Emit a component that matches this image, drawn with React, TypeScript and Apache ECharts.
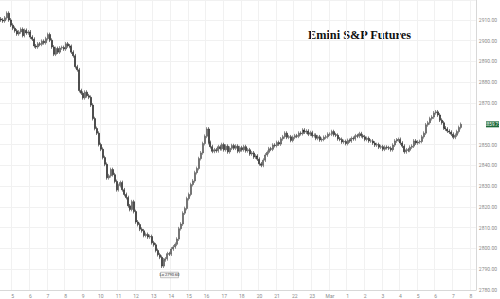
import React, { useEffect, useRef } from "react";
import * as echarts from "echarts";

const TITLE = "Emini S&P Futures";

// closing prices, one per candle
const closes: number[] = [
  2910, 2909.5, 2911, 2913.25, 2910, 2907.5, 2906, 2904.75, 2903.25, 2904.25,
  2905.5, 2902.5, 2905, 2903.75, 2904.25, 2901.75, 2900.75, 2897.5, 2897, 2898.5,
  2898.25, 2899.75, 2899, 2901, 2903, 2900.25, 2897, 2893.5, 2896.25, 2894.5,
  2896.5, 2896.75, 2896, 2898.5, 2897.5, 2897.25, 2894.5, 2892.75, 2887.5, 2886,
  2876, 2874.75, 2872.5, 2875.25, 2873.5, 2872.75, 2869, 2862.5, 2857.75, 2855.5,
  2850, 2847.75, 2843.75, 2840.5, 2834, 2835, 2838, 2835.5, 2832.25, 2828.25,
  2830.25, 2831.75, 2828.25, 2826, 2824.5, 2820.5, 2818.75, 2822.5, 2817.75, 2812.75,
  2811.5, 2809.25, 2808.5, 2806.25, 2806.75, 2805.5, 2805.75, 2802.75, 2801.75, 2799,
  2797, 2795.75, 2791.5, 2794.5, 2795, 2797.5, 2797.25, 2799.75, 2800.75, 2802,
  2804.5, 2809.5, 2811.75, 2817, 2819.25, 2824, 2826, 2830.75, 2832.5, 2836.5,
  2838.5, 2843.25, 2846, 2850.5, 2854, 2857.5, 2851, 2849, 2846.75, 2847.5,
  2847, 2849, 2848, 2850, 2847.5, 2849.25, 2846.5, 2848.25, 2849.5, 2848.25,
  2849.25, 2846.75, 2848.5, 2847.5, 2849, 2847, 2847.5, 2845.5, 2846, 2844,
  2844.5, 2843, 2840.75, 2840, 2842.5, 2845, 2846.25, 2848, 2847.75, 2849.75,
  2849.5, 2851, 2850.25, 2852.75, 2853.75, 2855.5, 2853.5, 2853.75, 2852, 2853.5,
  2854.25, 2854, 2855.5, 2855.25, 2857, 2856, 2856.5, 2855, 2855.75, 2854.25,
  2854.5, 2853, 2853.75, 2852.25, 2852.5, 2853.5, 2853.75, 2855, 2855, 2856.25,
  2854.75, 2854.5, 2852.75, 2852.5, 2851.25, 2851.5, 2850.5, 2852, 2851.75, 2853,
  2852.75, 2854.25, 2854, 2855.25, 2854.25, 2853.75, 2852.5, 2853, 2851.75, 2851.75,
  2850.75, 2849.75, 2850, 2848.75, 2849, 2847.75, 2848.75, 2848.5, 2848.25, 2847.5,
  2849.75, 2851.75, 2852.25, 2852.5, 2850.75, 2849.25, 2846.5, 2847.5, 2847.25, 2848.75,
  2849.25, 2851.75, 2850.75, 2851.25, 2851.5, 2853.75, 2855.5, 2859.5, 2860.5, 2862.5,
  2863.25, 2865.25, 2865.75, 2864.25, 2861.75, 2860.5, 2858, 2857.5, 2856.5, 2856,
  2855, 2853.5, 2854.5, 2856.25, 2858.25, 2859.75,
];

// day labels on the time axis
const xLabels: string[] = [
  "5", "6", "7", "8", "9", "10", "11", "12", "13", "14", "15", "16", "17", "18",
  "20", "21", "22", "23", "Mar", "1", "2", "3", "4", "5", "6", "7", "8",
];

// price axis
const Y_MIN = 2780;
const Y_STEP = 10;

const SLOTS = 243;
const WICK = 0.9;

export default function App() {
  const ref = useRef<HTMLDivElement>(null);

  useEffect(() => {
    if (!ref.current) return;
    const chart = echarts.init(ref.current, null, { renderer: "svg" });

    const cats: string[] = Array.from({ length: SLOTS }, () => "");
    xLabels.forEach((t, k) => {
      const idx = 6 + 9 * k;
      if (idx < SLOTS) cats[idx] = t;
    });

    const ohlc = closes.map((c, i) => {
      const o = i === 0 ? c + 0.5 : closes[i - 1];
      const lo = Math.min(o, c) - WICK;
      const hi = Math.max(o, c) + WICK;
      return [o, c, lo, hi];
    });

    const lastClose = closes[closes.length - 1];
    const showLabel = (idx: number) => cats[idx] !== "";

    const titleGraphic = {
      type: "text",
      left: 308,
      top: 29,
      style: {
        text: TITLE,
        font: 'bold 12.3px "Liberation Serif"',
        fill: "#111",
      },
    };

    chart.setOption({
      animation: false,
      backgroundColor: "#ffffff",
      grid: { left: 0, right: 14, top: 0, bottom: 9 },
      xAxis: {
        type: "category",
        data: cats,
        boundaryGap: true,
        axisLine: { show: true, lineStyle: { color: "#d8d8d8", width: 1 } },
        axisTick: { show: false },
        axisLabel: {
          interval: (idx: number) => showLabel(idx),
          fontSize: 5,
          color: "#8a8a8a",
          margin: 3,
          fontFamily: "Roboto",
        },
        splitLine: {
          show: true,
          interval: (idx: number) => showLabel(idx),
          lineStyle: { color: "#f1f1f1", width: 1 },
        },
      },
      yAxis: {
        type: "value",
        position: "right",
        min: Y_MIN,
        max: 2919.6,
        interval: Y_STEP,
        axisLine: { show: true, lineStyle: { color: "#d8d8d8", width: 1 } },
        axisTick: { show: false },
        axisLabel: {
          fontSize: 5,
          color: "#8a8a8a",
          margin: 3,
          showMaxLabel: false,
          fontFamily: "Roboto",
          formatter: (v: number) => (Math.abs(v - lastClose) < 5 ? "" : v.toFixed(2)),
        },
        splitLine: { show: true, lineStyle: { color: "#f1f1f1", width: 1 } },
      },
      series: [
        {
          type: "candlestick",
          data: ohlc,
          barWidth: 1.5,
          itemStyle: {
            color: "#6a6a6a",
            color0: "#222222",
            borderColor: "#4a4a4a",
            borderColor0: "#222222",
            borderWidth: 0.6,
          },
          markPoint: {
            symbol: "rect",
            symbolSize: [18, 5.5],
            symbolOffset: [8, 7],
            itemStyle: { color: "#f4f4f4", borderColor: "#9a9a9a", borderWidth: 0.5 },
            label: {
              show: true,
              position: "inside",
              fontSize: 4,
              color: "#333",
              fontFamily: "Roboto",
              formatter: (p: any) => "Lo " + Number(p.value).toFixed(2),
            },
            data: [{ type: "min", valueDim: "lowest" }],
          },
        },
      ],
      graphic: [titleGraphic],
    });

    const last = closes.length - 1;
    const pt = chart.convertToPixel({ xAxisIndex: 0, yAxisIndex: 0 }, [last, lastClose]) as number[];
    const py = pt[1];
    chart.setOption({
      graphic: [
        titleGraphic,
        {
          type: "rect",
          shape: { x: 486, y: py - 3, width: 13, height: 6 },
          style: { fill: "#1d6a3a" },
          z: 10,
        },
        {
          type: "text",
          x: 492.5,
          y: py,
          style: {
            text: lastClose.toFixed(2),
            font: '4.5px "Roboto"',
            fill: "#ffffff",
            align: "center",
            verticalAlign: "middle",
          },
          z: 11,
        },
      ],
    });

    return () => chart.dispose();
  }, []);

  return (
    <div
      ref={ref}
      style={{ position: "fixed", left: 0, top: 0, width: 500, height: 299 }}
    />
  );
}
